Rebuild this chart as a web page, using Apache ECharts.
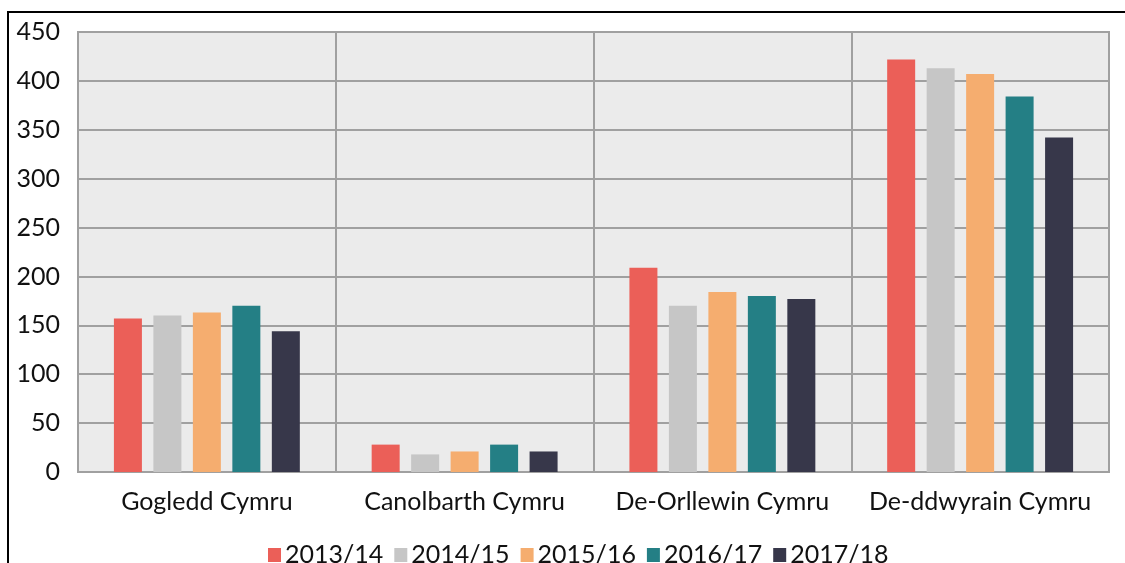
<!DOCTYPE html>
<html>
<head>
<meta charset="utf-8">
<script src="https://cdn.jsdelivr.net/npm/echarts@6/dist/echarts.min.js"></script>
<style>
  html, body { margin: 0; padding: 0; background: #fff; }
  #chart { width: 1125px; height: 563px; }
</style>
</head>
<body>
<div id="chart"></div>
<script>
// regions on the x axis
const regions = ['Gogledd Cymru', 'Canolbarth Cymru', 'De-Orllewin Cymru', 'De-ddwyrain Cymru'];
// one series per year
const years = ['2013/14', '2014/15', '2015/16', '2016/17', '2017/18'];
const values1314 = [157, 28, 209, 422];
const values1415 = [160, 18, 170, 413];
const values1516 = [163, 21, 184, 407];
const values1617 = [170, 28, 180, 384];
const values1718 = [144, 21, 177, 342];
const yTicks = [0, 50, 100, 150, 200, 250, 300, 350, 400, 450];

const colors = ['#eb5f58', '#c6c6c6', '#f5ad6f', '#247f85', '#37374a'];
const allValues = [values1314, values1415, values1516, values1617, values1718];

const chart = echarts.init(document.getElementById('chart'));

const font = 'Lato, "Noto Sans", sans-serif';

const option = {
  animation: false,
  color: colors,
  textStyle: { fontFamily: font },
  graphic: [{
    // outer black frame (only left and top edges are visible)
    type: 'rect',
    shape: { x: 8, y: 12, width: 1300, height: 700 },
    style: { fill: 'none', stroke: '#000', lineWidth: 2 },
    silent: true
  }],
  grid: {
    left: 78, right: 16, top: 32, bottom: 91,
    show: true,
    backgroundColor: '#ebebeb',
    borderColor: '#a0a0a0',
    borderWidth: 2
  },
  legend: {
    data: years,
    top: 537,
    left: 263,
    icon: 'rect',
    itemWidth: 13,
    itemHeight: 14,
    itemGap: 11,
    textStyle: { fontSize: 25, lineHeight: 26, color: '#111', fontFamily: font, padding: [0, 0, 0, -1] }
  },
  xAxis: {
    type: 'category',
    data: regions,
    axisLine: { show: false },
    axisTick: { show: false },
    axisLabel: { interval: 0, fontSize: 25, color: '#111', margin: 17, fontFamily: font },
    splitLine: { show: true, interval: 0, lineStyle: { color: '#a0a0a0', width: 2 } }
  },
  yAxis: {
    type: 'value',
    min: yTicks[0],
    max: yTicks[yTicks.length - 1],
    interval: 50,
    axisLine: { show: false },
    axisTick: { show: false },
    axisLabel: { fontSize: 25, color: '#111', margin: 18, fontFamily: font },
    splitLine: { show: true, lineStyle: { color: '#a0a0a0', width: 2 } }
  },
  series: years.map((y, i) => ({
    name: y,
    type: 'bar',
    data: allValues[i],
    barWidth: 28,
    barGap: '41%',
    itemStyle: { color: colors[i] }
  }))
};

chart.setOption(option);
</script>
</body>
</html>
